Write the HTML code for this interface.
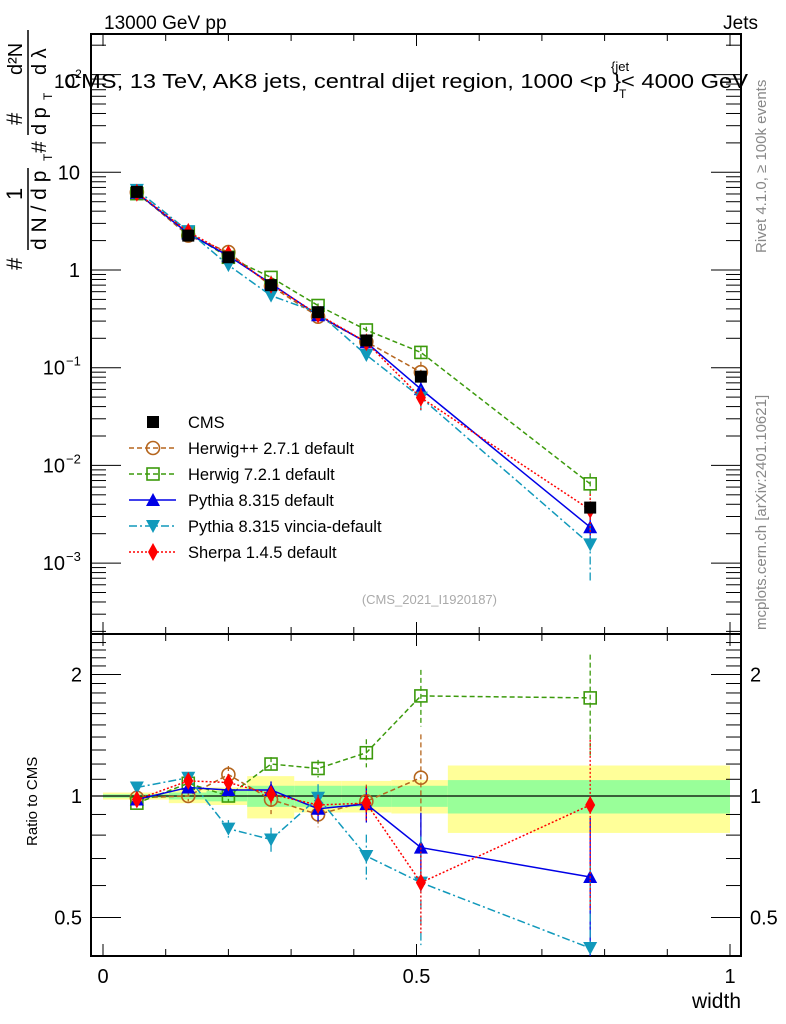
<!DOCTYPE html>
<html><head><meta charset="utf-8"><style>
html,body{margin:0;padding:0;background:#fff}
svg{display:block;font-family:"Liberation Sans",sans-serif}
</style></head><body>
<svg id="chart" width="786" height="1024" viewBox="0 0 786 1024" xmlns="http://www.w3.org/2000/svg">
<rect width="786" height="1024" fill="#fff"/>
<text x="104" y="29" font-size="19">13000 GeV pp</text>
<text x="758" y="29" font-size="19" text-anchor="end">Jets</text>
<g id="bands"></g>
<g id="grid"></g>
<g id="series"></g>
<text x="54" y="88" font-size="19">10<tspan dy="-10" font-size="12">2</tspan></text>
<text x="64" y="88" font-size="20" textLength="684" lengthAdjust="spacingAndGlyphs">CMS, 13 TeV, AK8 jets, central dijet region, 1000 &lt;p    }&lt; 4000 GeV</text>
<text x="611" y="71" font-size="13">{jet</text>
<text x="619" y="98" font-size="12">T</text>
<g transform="translate(0,0)">
<text transform="translate(22,270) rotate(-90)" font-size="22">#</text>
<text transform="translate(22,200) rotate(-90)" font-size="22">1</text>
<line x1="28" y1="250" x2="28" y2="168" stroke="#000" stroke-width="1.5"/>
<text transform="translate(46,250) rotate(-90)" font-size="21">d N / d p</text>
<text transform="translate(52,161) rotate(-90)" font-size="12">T</text>
<text transform="translate(46,153) rotate(-90)" font-size="21">#</text>
<text transform="translate(22,125) rotate(-90)" font-size="22">#</text>
<line x1="28" y1="135" x2="28" y2="30" stroke="#000" stroke-width="1.5"/>
<text transform="translate(22,75) rotate(-90)" font-size="20">d²N</text>
<text transform="translate(46,135) rotate(-90)" font-size="20">d p</text>
<text transform="translate(52,100) rotate(-90)" font-size="12">T</text>
<text transform="translate(46,75) rotate(-90)" font-size="20">d λ</text>
</g>
<text transform="translate(37,846) rotate(-90)" font-size="15">Ratio to CMS</text>
<text x="741" y="1008" font-size="21" text-anchor="end">width</text>
<text transform="translate(766,253) rotate(-90)" font-size="15" fill="#888">Rivet 4.1.0, ≥ 100k events</text>
<text transform="translate(766,630) rotate(-90)" font-size="15" fill="#888">mcplots.cern.ch [arXiv:2401.10621]</text>
<text x="497" y="604" font-size="13" fill="#aaa" text-anchor="end">(CMS_2021_I1920187)</text>
<g id="legend"></g>
</svg>
<script>
const xCenters=[0.054,0.136,0.2,0.268,0.343,0.42,0.507,0.777];
const binEdges=[0,0.105,0.165,0.23,0.305,0.38,0.46,0.55,1];
const cmsValues=[6.3,2.25,1.35,0.70,0.37,0.19,0.081,0.0037];
const cmsErr=[0.01,0.01,0.015,0.03,0.03,0.03,0.05,0.09];
const bandTotal=[0.02,0.04,0.05,0.12,0.09,0.09,0.095,0.19];
const bandStat=[0.01,0.02,0.03,0.06,0.06,0.06,0.06,0.095];
const herwigppRatio=[0.99,1.0,1.13,0.98,0.9,0.97,1.11,null];
const herwigppErr=[0.02,0.03,0.05,0.08,0.07,0.1,0.28,0.3];
const herwig7Ratio=[0.96,1.075,1.0,1.2,1.17,1.28,1.77,1.75];
const herwig7Err=[0.02,0.02,0.03,0.04,0.05,0.08,0.16,0.28];
const pythiaRatio=[0.98,1.05,1.035,1.035,0.93,0.955,0.745,0.63];
const pythiaErr=[0.02,0.02,0.03,0.05,0.07,0.1,0.22,0.4];
const vinciaRatio=[1.05,1.11,0.83,0.78,0.99,0.71,0.61,0.42];
const vinciaErr=[0.02,0.03,0.05,0.07,0.08,0.13,0.3,0.6];
const sherpaRatio=[0.98,1.09,1.08,1.01,0.95,0.96,0.61,0.95];
const sherpaErr=[0.02,0.02,0.03,0.05,0.06,0.1,0.25,0.45];
const mainYTicks=[2,1,0,-1,-2,-3];
const mainYLabels=["","10","1","10","10","10"];
const ratioTicks=[2,1,0.5];
const xTicks=[0,0.5,1];

const NS="http://www.w3.org/2000/svg";
const L=91,R=741,T=34,MB=634,RB=956;
function sx(v){return 103+v*627;}
function sy(v){return 270-97.7*Math.log10(v);}
function ry(r){return 796-121.5*Math.log2(r);}
function mk(tag,at,parent){const e=document.createElementNS(NS,tag);for(const k in at)e.setAttribute(k,at[k]);parent.appendChild(e);return e;}
const bands=document.getElementById('bands'),grid=document.getElementById('grid'),ser=document.getElementById('series'),leg=document.getElementById('legend');

for(let i=0;i<bandTotal.length;i++){
  const x1=sx(binEdges[i]),x2=sx(binEdges[i+1]);
  let r=mk('rect',{x:x1,y:ry(1+bandTotal[i]),width:x2-x1,height:ry(1-bandTotal[i])-ry(1+bandTotal[i]),fill:'#ffff99'},bands);
  
  
  let g=mk('rect',{x:x1,y:ry(1+bandStat[i]),width:x2-x1,height:ry(1-bandStat[i])-ry(1+bandStat[i]),fill:'#99ff99'},bands);
  
  
}
mk('line',{x1:L,x2:R,y1:ry(1),y2:ry(1),stroke:'#000','stroke-width':1.3},bands);

mk('rect',{x:L,y:T,width:R-L,height:MB-T,fill:'none',stroke:'#000','stroke-width':2},grid);
mk('rect',{x:L,y:MB,width:R-L,height:RB-MB,fill:'none',stroke:'#000','stroke-width':2},grid);
for(let k=0;k<=10;k++){const v=k/10,x=sx(v),big=k%5==0?12:7;
  [[T,1],[MB,-1],[MB,1],[RB,-1]].forEach(([y,d])=>mk('line',{x1:x,x2:x,y1:y,y2:y+d*big,stroke:'#000'},grid));}
xTicks.forEach(v=>{const t=mk('text',{x:sx(v),y:983,'font-size':20,'text-anchor':'middle'},grid);t.textContent=String(v);
 
 });
for(let e=-4;e<=2;e++){for(let m=1;m<10;m++){const v=m*Math.pow(10,e),y=sy(v);if(y<T||y>MB)continue;const len=m==1?30:15;
 mk('line',{x1:L,x2:L+len,y1:y,y2:y,stroke:'#000'},grid);mk('line',{x1:R,x2:R-len,y1:y,y2:y,stroke:'#000'},grid);}}
mainYTicks.forEach((e,i)=>{const y=sy(Math.pow(10,e))+7;const t=mk('text',{x:e<0?65:80,y:y,'font-size':20,'text-anchor':'end'},grid);t.textContent=mainYLabels[i];
 
 
 if(e<0){const s=mk('text',{x:66,y:y-9,'font-size':13},grid);s.textContent='−'+(-e);}});
for(let v=0.4;v<=2.5;v+=0.1){const y=ry(v);if(y<MB||y>RB)continue;const major=Math.abs(v-0.5)<1e-6||Math.abs(v-1)<1e-6||Math.abs(v-2)<1e-6;const len=major?30:15;
 mk('line',{x1:L,x2:L+len,y1:y,y2:y,stroke:'#000'},grid);mk('line',{x1:R,x2:R-len,y1:y,y2:y,stroke:'#000'},grid);}
ratioTicks.forEach(v=>{[[82,'end'],[750,'start']].forEach(([x,a])=>{const t=mk('text',{x:x,y:ry(v)+7,'font-size':20,'text-anchor':a},grid);t.textContent=String(v);
 
 });});

function marker(kind,x,y,col,p){
  if(kind=='sq')mk('rect',{x:x-6,y:y-6,width:12,height:12,fill:'#000'},p);
  else if(kind=='osq')mk('rect',{x:x-6,y:y-6,width:12,height:12,fill:'none',stroke:col,'stroke-width':1.6},p);
  else if(kind=='oc')mk('circle',{cx:x,cy:y,r:6.5,fill:'none',stroke:col,'stroke-width':1.6},p);
  else if(kind=='tu')mk('polygon',{points:`${x},${y-7} ${x-7},${y+6} ${x+7},${y+6}`,fill:col},p);
  else if(kind=='td')mk('polygon',{points:`${x},${y+7} ${x-7},${y-6} ${x+7},${y-6}`,fill:col},p);
  else if(kind=='di')mk('polygon',{points:`${x},${y-9} ${x-5},${y} ${x},${y+9} ${x+5},${y}`,fill:col},p);
}
const seriesDefs=[
 {name:'herwigpp',label:'Herwig++ 2.7.1 default',r:herwigppRatio,e:herwigppErr,col:'#b5651d',dash:'5,3',m:'oc'},
 {name:'herwig7',label:'Herwig 7.2.1 default',r:herwig7Ratio,e:herwig7Err,col:'#3c9a0c',dash:'5,3',m:'osq'},
 {name:'pythia',label:'Pythia 8.315 default',r:pythiaRatio,e:pythiaErr,col:'#0000e6',dash:'',m:'tu'},
 {name:'vincia',label:'Pythia 8.315 vincia-default',r:vinciaRatio,e:vinciaErr,col:'#1199bb',dash:'8,3,2,3',m:'td'},
 {name:'sherpa',label:'Sherpa 1.4.5 default',r:sherpaRatio,e:sherpaErr,col:'#ff0000',dash:'2,2',m:'di'}];
seriesDefs.forEach(s=>{
 const g=mk('g',{},ser);
 
 
 const idx=s.r.map((r,i)=>i).filter(i=>s.r[i]!=null);
 const main=s.r.map((r,i)=>r==null?null:r*cmsValues[i]);
 const at={fill:'none',stroke:s.col,'stroke-width':1.5};if(s.dash)at['stroke-dasharray']=s.dash;
 mk('polyline',Object.assign({points:idx.map(i=>sx(xCenters[i])+','+sy(main[i])).join(' ')},at),g);
 mk('polyline',Object.assign({points:idx.map(i=>sx(xCenters[i])+','+ry(s.r[i])).join(' ')},at),g);
 idx.forEach(i=>{const v=main[i];const x=sx(xCenters[i]);const e=s.e[i];
   const ea={stroke:s.col,'stroke-width':1.3};if(s.dash)ea['stroke-dasharray']=s.dash;
   mk('line',Object.assign({x1:x,x2:x,y1:sy(v*(1+e)),y2:sy(v*Math.max(0.05,1-e))},ea),g);
   const r=s.r[i];
   mk('line',Object.assign({x1:x,x2:x,y1:Math.max(MB,ry(r*(1+e))),y2:Math.min(RB,ry(r*Math.max(0.05,1-e)))},ea),g);
   marker(s.m,x,sy(v),s.col,g);marker(s.m,x,ry(r),s.col,g);});
});
const cg=mk('g',{},ser);


cmsValues.forEach((v,i)=>{const x=sx(xCenters[i]);mk('line',{x1:x,x2:x,y1:sy(v*(1+cmsErr[i])),y2:sy(v*(1-cmsErr[i])),stroke:'#000'},cg);marker('sq',x,sy(v),'#000',cg);});

const rows=[{label:'CMS',m:'sq',col:'#000'}].concat(seriesDefs);
rows.forEach((s,i)=>{const y=422+i*26;const g=mk('g',{},leg);
 
 
 if(i>0){const a={x1:129,x2:176,y1:y,y2:y,stroke:s.col,'stroke-width':1.5};if(s.dash)a['stroke-dasharray']=s.dash;mk('line',a,g);}
 marker(s.m,153,y,s.col,g);
 const t=mk('text',{x:188,y:y+6,'font-size':16.5},g);t.textContent=s.label;});
</script>
</body></html>
